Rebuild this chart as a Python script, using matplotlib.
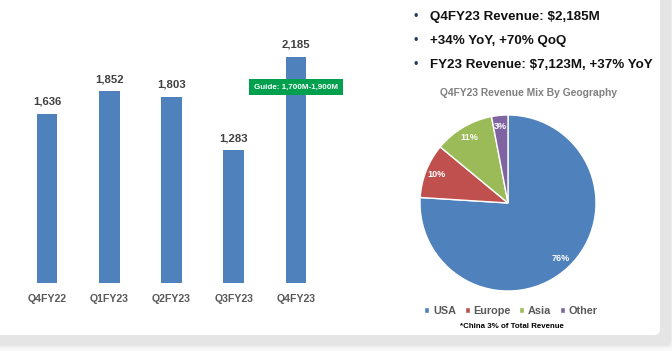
import matplotlib.pyplot as plt
from matplotlib.patches import FancyBboxPatch

plt.rcParams['font.family'] = ['Liberation Sans', 'DejaVu Sans']

quarters = ["Q4FY22", "Q1FY23", "Q2FY23", "Q3FY23", "Q4FY23"]
revenue = [1636, 1852, 1803, 1283, 2185]

regions = ["USA", "Europe", "Asia", "Other"]
mix = [76, 10, 11, 3]
pie_colors = ["#4F81BD", "#C0504D", "#9BBB59", "#8064A2"]

bullets = ["Q4FY23 Revenue: $2,185M",
           "+34% YoY, +70% QoQ",
           "FY23 Revenue: $7,123M, +37% YoY"]

W, H = 672, 351
fig = plt.figure(figsize=(W / 100, H / 100), dpi=100)
fig.patch.set_facecolor("#f7f7f7")

# card background with soft shadow
bg = fig.add_axes([0, 0, 1, 1])
bg.set_xlim(0, W)
bg.set_ylim(H, 0)
bg.axis("off")
for i, a in enumerate([0.02, 0.02, 0.03]):
    bg.add_patch(FancyBboxPatch((-10, -10), 670 + 10 + 3 - i, 345 + 10 + 3 - i,
                                boxstyle="round,pad=0,rounding_size=6",
                                fc="black", ec="none", alpha=a))
bg.add_patch(FancyBboxPatch((-10, -10), 670, 345,
                            boxstyle="round,pad=0,rounding_size=6",
                            fc="white", ec="none"))

# bar chart
ax = fig.add_axes([16 / W, 68 / H, 311 / W, 263 / H])
ax.set_facecolor("none")
x = range(len(quarters))
ax.bar(x, revenue, width=0.33, color="#4F81BD")
for xi, v in zip(x, revenue):
    ax.text(xi, v + 70, f"{v:,}", ha="center", va="bottom",
            fontsize=8.2, fontweight="bold", color="#404040")
ax.set_xlim(-0.5, 4.5)
ax.set_ylim(0, 2543)
ax.set_xticks(list(x))
ax.set_xticklabels(quarters, fontsize=7.6, fontweight="bold", color="#595959")
ax.tick_params(axis="x", length=0, pad=8)
ax.set_yticks([])
for s in ax.spines.values():
    s.set_visible(False)
ax.text(4, 1895, "Guide: 1,700M-1,900M", ha="center", va="center",
        fontsize=5.8, fontweight="bold", color="white",
        bbox=dict(boxstyle="square,pad=0.6", fc="#00A04F", ec="none"))

# bullets
for i, t in enumerate(bullets):
    y = 17 + i * 24
    bg.text(414, y, "•", ha="left", va="center", fontsize=9, color="#1F3864")
    bg.text(430, y, t, ha="left", va="center", fontsize=9.6,
            fontweight="bold", color="#111111")

bg.text(529, 93, "Q4FY23 Revenue Mix By Geography", ha="center", va="center",
        fontsize=7.4, fontweight="bold", color="#7f7f7f")

# pie
r = 88
pax = fig.add_axes([(508 - r) / W, (H - 203 - r) / H, 2 * r / W, 2 * r / H])
wedges, _, autotexts = pax.pie(mix, colors=pie_colors, startangle=90,
                               counterclock=False, autopct="%d%%",
                               pctdistance=0.87,
                               wedgeprops=dict(edgecolor="white", linewidth=1),
                               textprops=dict(color="white", fontsize=6.5,
                                              fontweight="bold"))
pax.set_xlim(-1, 1)
pax.set_ylim(-1, 1)
pax.set_aspect("equal")

leg = fig.legend(wedges, regions, loc="center", bbox_to_anchor=(511 / W, 1 - 311 / H),
                 ncol=4, frameon=False, fontsize=7.8, handlelength=0.45,
                 handleheight=0.45, handletextpad=0.35, columnspacing=0.8)
for t in leg.get_texts():
    t.set_color("#595959")
    t.set_fontweight("bold")

bg.text(512, 327, "*China 3% of Total Revenue", ha="center", va="center",
        fontsize=5.7, fontweight="bold", color="black")

fig.savefig("out.png", dpi=100, facecolor=fig.get_facecolor())
